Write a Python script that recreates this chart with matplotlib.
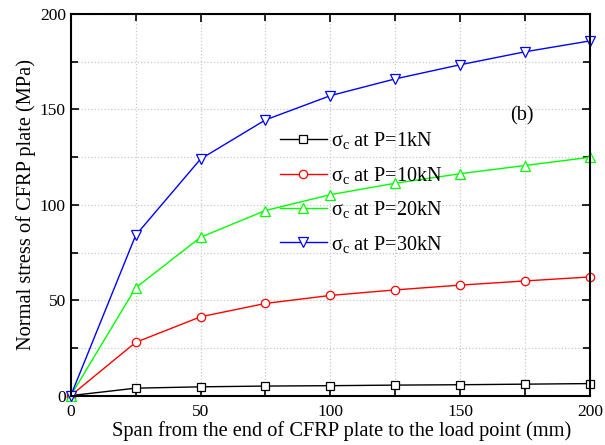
import matplotlib
matplotlib.use("Agg")
import matplotlib.pyplot as plt
from matplotlib.ticker import MultipleLocator

plt.rcParams['font.family'] = ['Liberation Serif', 'DejaVu Serif']
plt.rcParams['mathtext.fontset'] = 'custom'
plt.rcParams['mathtext.rm'] = 'Liberation Serif'
plt.rcParams['mathtext.it'] = 'Liberation Serif'

span = [0, 25, 50, 75, 100, 125, 150, 175, 200]
s_1kN = [0, 3.9, 4.6, 5.0, 5.2, 5.5, 5.7, 6.0, 6.3]
s_10kN = [0, 27.9, 41.3, 48.3, 52.5, 55.4, 57.9, 60.1, 62.2]
s_20kN = [0, 56.5, 83.0, 97.0, 105.3, 111.3, 116.3, 120.6, 124.9]
s_30kN = [0, 84.0, 124.0, 144.5, 157.2, 166.0, 173.4, 180.2, 185.9]
labels = [r'$\mathregular{\sigma_c}$ at P=1kN', r'$\mathregular{\sigma_c}$ at P=10kN',
          r'$\mathregular{\sigma_c}$ at P=20kN', r'$\mathregular{\sigma_c}$ at P=30kN']

fig = plt.figure(figsize=(6.05, 4.45), dpi=100)
ax = fig.add_axes([0.117, 0.111, 0.858, 0.8575])

series = [s_1kN, s_10kN, s_20kN, s_30kN]
colors = ['black', 'red', '#00ff00', 'blue']
markers = ['s', 'o', '^', 'v']
sizes = [5.8, 6.0, 6.8, 6.8]
for ys, c, m, ms, lab in zip(series, colors, markers, sizes, labels):
    ax.plot(span, ys, color=c, marker=m, markersize=ms, markerfacecolor='white',
            markeredgecolor=c, markeredgewidth=0.9, linewidth=1.0, label=lab, clip_on=False)

ax.set_xlim(0, 200)
ax.set_ylim(0, 200)
ax.xaxis.set_major_locator(MultipleLocator(50))
ax.xaxis.set_minor_locator(MultipleLocator(25))
ax.yaxis.set_major_locator(MultipleLocator(50))
ax.yaxis.set_minor_locator(MultipleLocator(25))
ax.grid(True, which='both', color='#c8c8c8', linestyle=':', linewidth=0.9)
ax.set_axisbelow(True)
ax.tick_params(which='both', direction='in', top=True, right=True, labelsize=12.5, width=1.2)
ax.tick_params(which='major', length=6)
ax.tick_params(which='minor', length=5)
ax.tick_params(axis='x', which='major', pad=6)
for sp in ax.spines.values():
    sp.set_linewidth(1.5)

ax.set_xlabel('Span from the end of CFRP plate to the load point (mm)', fontsize=14.7, labelpad=1)
ax.xaxis.label.set_x(0.522)
ax.set_ylabel('Normal stress of CFRP plate (MPa)', fontsize=14.7, labelpad=3)

ax.text(173.8, 146.5, '(b)', fontsize=14.5, ha='center', va='center')

ax.legend(loc='upper left', bbox_to_anchor=(0.403, 0.695), frameon=False, fontsize=14.6,
          handlelength=2.3, handletextpad=0.2, labelspacing=0.66, borderpad=0, borderaxespad=0)

fig.savefig('out.png', dpi=100)
